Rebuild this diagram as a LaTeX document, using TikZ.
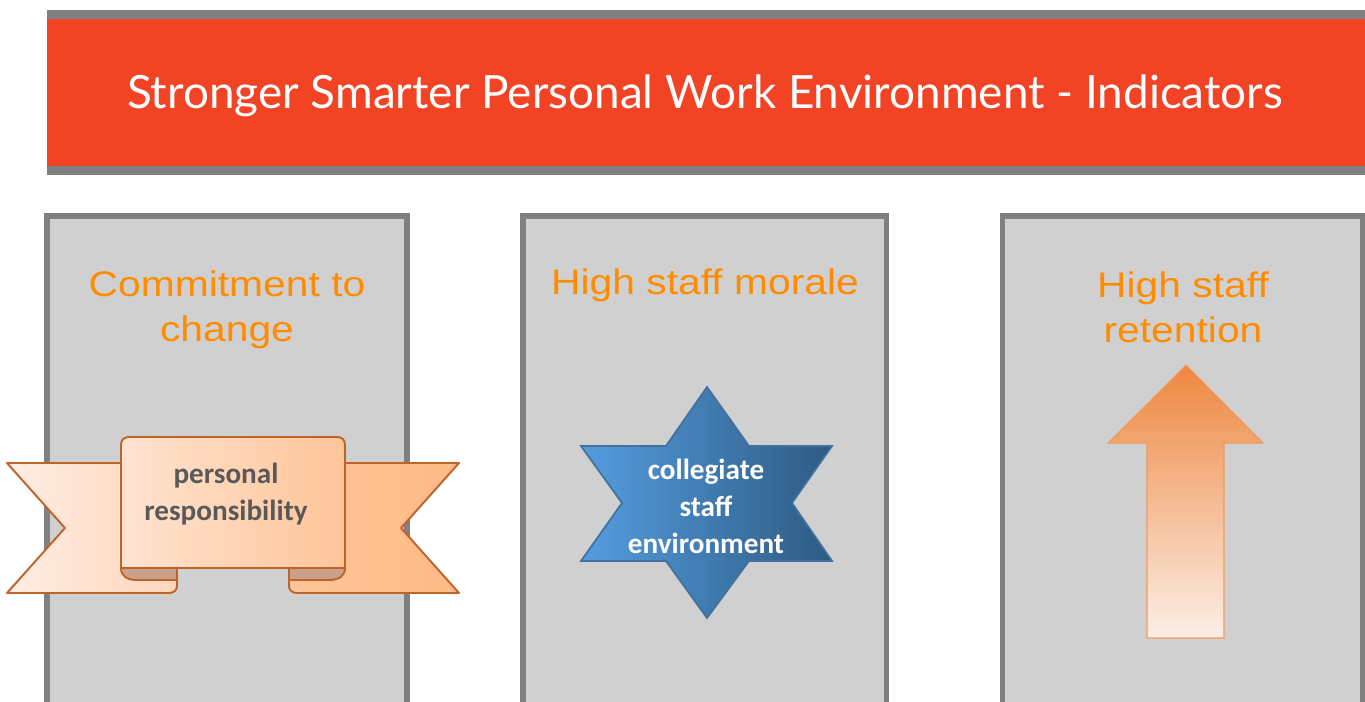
\documentclass[tikz,border=0pt]{standalone}
\usepackage{fontspec}
\setmainfont{Liberation Sans}
\newfontfamily\titlefont{Lato}
\newfontfamily\headfont[FakeStretch=1.15]{Liberation Sans}
\newfontfamily\labelfont{Carlito}
\definecolor{barred}{HTML}{F24324}
\definecolor{edgegray}{HTML}{808080}
\definecolor{panelgray}{HTML}{D0D0D0}
\definecolor{headorange}{HTML}{FF8C00}
\definecolor{ribbonedge}{HTML}{BE642B}
\definecolor{folddark}{HTML}{C9A089}
\definecolor{labelgray}{HTML}{595959}
\definecolor{tailleft}{HTML}{FFEDE3}
\definecolor{tailmid}{HTML}{FFD6BA}
\definecolor{tailright}{HTML}{FFBA86}
\definecolor{scrolllight}{HTML}{FFE3D1}
\definecolor{scrolldark}{HTML}{FFC598}
\definecolor{starlight}{HTML}{559DE0}
\definecolor{stardark}{HTML}{2D5A82}
\definecolor{staredge}{HTML}{41719C}
\definecolor{arrowtop}{HTML}{EE8740}
\definecolor{arrowbot}{HTML}{FCEFE6}
\begin{document}
\begin{tikzpicture}[x=0.02cm,y=-0.02cm,
  colbox/.style={draw=edgegray,line width=3pt,fill=panelgray},
  coltitle/.style={text=headorange,font=\headfont\fontsize{20.2}{25.6}\selectfont,align=center,anchor=base,inner sep=0pt},
  ribbonline/.style={draw=ribbonedge,line width=1.1pt,line join=round},
  labeltext/.style={font=\labelfont\bfseries\fontsize{16.6}{21}\selectfont,align=center,anchor=base,inner sep=0pt}]
\useasboundingbox (0,0) rectangle (1365,702);
% title bar
\fill[edgegray] (47,10) rectangle (1365,175);
\fill[barred] (47,19) rectangle (1365,166);
\node[text=white,font=\titlefont\fontsize{26.1}{30}\selectfont,anchor=base,inner sep=0pt] (heading) at (705,109) {Stronger Smarter Personal Work Environment - Indicators};
% three columns
\draw[colbox] (47,705) -- (47,216) -- (407,216) -- (407,705);
\draw[colbox] (523,705) -- (523,216) -- (886.5,216) -- (886.5,705);
\draw[colbox] (1002.5,705) -- (1002.5,216) -- (1363,216) -- (1363,705);
\node[coltitle] (commit) at (227,341) {Commitment to\\change};
\node[coltitle] (morale) at (705,295) {High staff morale};
\node[coltitle] (retain) at (1183,342) {High staff\\retention};
% ribbon
\draw[ribbonline,left color=tailleft,right color=tailmid] (7,463) -- (177,463) -- (177,586) .. controls (177,590) and (174,593) .. (169,593) -- (7,593) -- (65,528) -- cycle;
\draw[ribbonline,left color=scrolldark,right color=tailright] (459,463) -- (289,463) -- (289,586) .. controls (289,590) and (292,593) .. (297,593) -- (459,593) -- (401,528) -- cycle;
\draw[ribbonline,left color=scrolllight,right color=scrolldark] (121,568) -- (121,445) .. controls (121,440) and (124,437) .. (129,437) -- (337,437) .. controls (342,437) and (345,440) .. (345,445) -- (345,568) -- cycle;
\draw[ribbonline,fill=folddark] (121,568) .. controls (121,576) and (127,580) .. (137,580) -- (177,580) -- (177,568) -- cycle;
\draw[ribbonline,fill=folddark] (345,568) .. controls (345,576) and (339,580) .. (329,580) -- (289,580) -- (289,568) -- cycle;
\node[labeltext,text=labelgray] (resp) at (226,520) {personal\\responsibility};
% star
\draw[draw=staredge,line width=1pt,line join=miter,left color=starlight,right color=stardark] (707,387) -- (749,446) -- (832,446) -- (792,503) -- (832,561) -- (749,561) -- (707,618) -- (666,561) -- (581,561) -- (622,503) -- (581,446) -- (666,446) -- cycle;
\node[labeltext,text=white,font=\labelfont\bfseries\fontsize{16.6}{20.8}\selectfont] (collegiate) at (706,553) {collegiate\\staff\\environment};
% arrow
\draw[draw=arrowtop!85!white,line width=0.6pt,top color=arrowtop,bottom color=arrowbot] (1186,365) -- (1263,443) -- (1224,443) -- (1224,638) -- (1147,638) -- (1147,443) -- (1108,443) -- cycle;
\end{tikzpicture}
\end{document}
